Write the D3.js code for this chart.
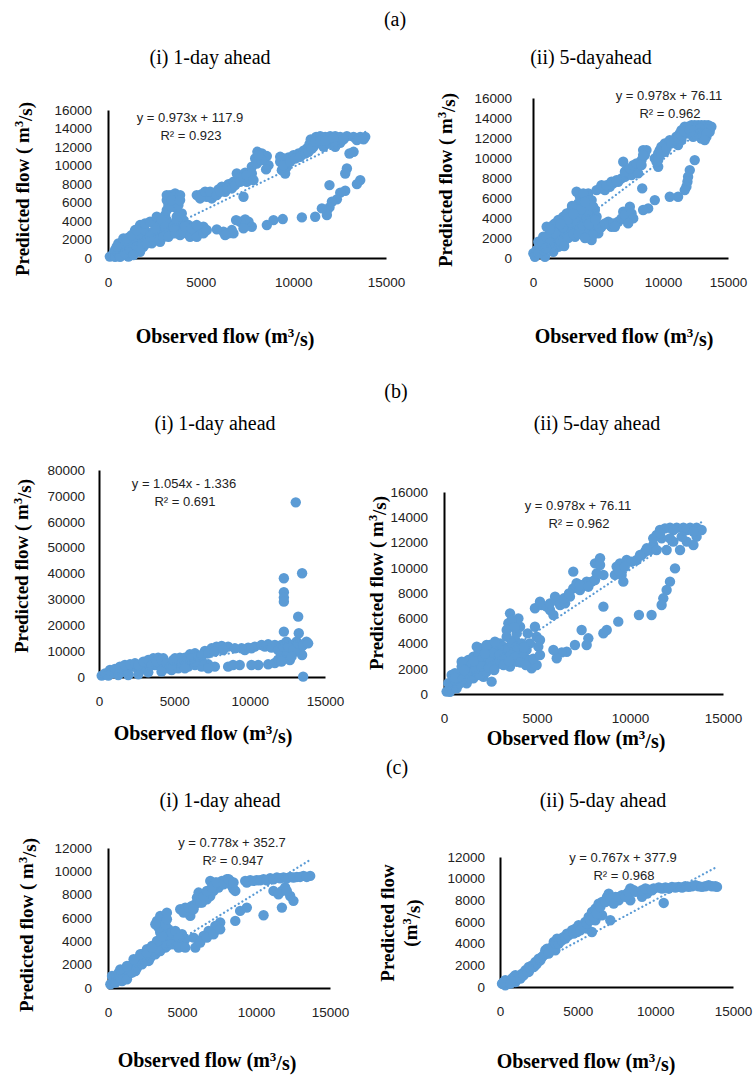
<!DOCTYPE html>
<html>
<head>
<meta charset="utf-8">
<script src="https://cdn.jsdelivr.net/npm/d3@7"></script>
<style>
  html, body { margin: 0; padding: 0; background: #fff; }
  svg { display: block; }
</style>
</head>
<body>
<svg id="fig" width="756" height="1075"></svg>
<script>
// Observed vs predicted flow (m3/s), one [observed, predicted] pair per day.

// (a) model, 1-day ahead
const a1Points = [
  [100,150],[290,500],[470,320],[380,860],[650,680],[830,320],[1100,150],[1280,500],
  [650,1400],[920,1040],[560,1580],[830,2120],[1100,1580],[1370,1040],[1190,2300],[1550,1940],
  [1730,2480],[1460,3020],[1730,3560],[2000,3020],[2270,2480],[2090,1940],[2450,2840],[2450,3740],
  [2720,3380],[2900,2660],[3170,4100],[3260,3200],[3440,2660],[3080,4640],[3260,5720],[3170,6260],
  [3350,6800],[3620,6980],[3890,6800],[3620,6080],[3710,5360],[3980,4820],[3710,4460],[4070,4100],
  [4340,3560],[4610,3380],[4970,3020],[5150,3380],[3890,3380],[4250,2660],[3620,3740],[2810,1760],
  [1910,1220],[2360,1580],[3890,2480],[4790,2660],
  [380,140],[650,140],[920,500],[1190,860],[1550,1220],[1820,1580],[2090,1580],[2450,1940],
  [2720,2120],[2990,2300],[3260,2300],[3620,2660],[4070,2840],[4430,2300],[4790,2300],[5150,2660],
  [5330,3020],[470,1220],[1010,2120],[1280,2480],[1550,3020],[2000,3740],[2270,3920],[2630,4460],
  [2900,4100],[2540,3020],[3080,3380],[3530,3380],[3170,5180],[3440,5540],[3800,5720],[3170,6800],
  [3440,6260],[3890,6260],[3710,4100],[4160,3380],[4520,3200],[4790,3560],[2270,2300],[1730,680],
  [1370,320],
  [4790,6800],[5060,6910],[5330,6620],[5600,6440],[5780,6800],[5960,7420],[6140,7700],[6320,7160],
  [6500,7990],[6770,8240],[6950,9140],[7130,8710],[7400,9220],[7490,8240],[7670,8600],[7760,9860],
  [7940,10760],[8060,11480],[8300,11300],[8570,11020],[8660,10040],[8530,9580],[7310,6620],[9290,10400],
  [9380,9500],[9560,9140],[9650,9860],[9470,10760],[9740,10870],[10010,11120],[10280,11300],[10550,11590],
  [10730,11840],[10870,12310],[10940,12820],[11090,12020],[11230,13100],[11450,13180],[11720,13100],[11990,13180],
  [12260,13180],[12530,13100],[12890,13180],[13250,13100],[13610,13100],[13880,13100],[11360,12460],[11630,12020],
  [11950,12380],[12170,12670],[12530,12460],[13250,11480],[13030,11300],[12890,9680],[12800,9140],
  [4970,6440],[5240,7160],[5510,7160],[5870,6800],[6050,7160],[6410,7520],[6680,7520],[6860,7880],
  [7130,8240],[7310,8780],[7490,8960],[7760,9140],[7850,8420],[8030,10220],[8300,10580],[8120,11120],
  [9290,10940],[9470,10040],[9830,10400],[10100,10760],[10370,10940],[10640,11300],[10820,11480],[11000,11840],
  [11180,12560],[11450,12670],[11720,12670],[12170,12920],[12710,12820],[13430,12740],[13790,12820],[12260,12020],
  [13610,8420],[13430,7990],[12800,7270],[12530,7060],[12350,6340],[12080,6080],[11950,5470],[11810,5110],
  [11810,4640],[11950,7880],[11540,5360],[11180,4460],[10460,4390],[9430,4210],[8930,4100],[8570,3560],
  [7760,3380],[7580,3920],[7400,4180],[7130,3920],[6910,4100],[6770,2660],[6500,2660],[6230,2840],
  [5870,3100],[7310,3200],[6680,3020],[6320,2480]
];

// (a) model, 5-day ahead
const a2Points = [
  [30,470],[280,800],[150,130],[540,1130],[670,630],[410,1630],[920,1470],[1180,970],
  [790,2130],[1310,2460],[1050,3130],[1560,2800],[1430,1800],[1820,2130],[1690,3460],[1950,3130],
  [2200,3800],[2070,2630],[2460,2960],[2710,3300],[2330,4130],[2590,4460],[2970,4130],[3230,3630],
  [2840,2630],[3480,3130],[3740,3800],[3990,3300],[3230,4800],[3480,5460],[3610,6130],[3350,6630],
  [3740,5790],[3990,6130],[4120,5130],[4250,6460],[4510,5790],[4760,4800],[4890,4130],[4380,4130],
  [4630,3630],[5020,2460],[5270,3130],[3870,2300],[4510,1800],[3230,2130],[1950,1130],[2460,1800],
  [1560,630],[920,130],
  [410,470],[790,800],[1180,1630],[1430,1130],[1690,1630],[1950,2130],[2200,2460],[2460,2460],
  [2840,3130],[3100,2960],[3480,2630],[3870,2800],[4250,2800],[4760,2630],[5150,2960],[4510,3300],
  [4890,3460],[1950,3800],[1560,3300],[2460,3630],[2970,4800],[3870,6460],[4380,5790],[4630,5130],
  [3870,4460],[3480,4130],[670,1630],[1050,2130],[5790,3630],[6040,3130],[6940,4630],
  [1300,1500],[1700,2500],[2100,1700],[2300,3100],[2700,2000],[2900,3600],[3100,2400],[3400,3600],
  [3600,2900],[3800,3300],[4100,3900],[4300,3400],[4600,2300],[4800,3800],[4200,4700],[3700,4900],
  [3000,5200],[2700,3900],[2100,3400],[1000,1000],[1300,2900],[3100,4400],[4400,5300],[4000,5600],
  [3500,2400],[4000,2000],[2400,1200],
  [5530,3460],[5910,3300],[6170,3460],[6550,3630],[6810,3960],[7070,4300],[7450,5130],[7580,4460],
  [7710,3960],[7320,3460],[6300,3130],
  [4890,6790],[5150,6960],[5530,6790],[5910,7130],[6170,7460],[6550,7630],[6810,7960],[7070,8130],
  [7320,8460],[7580,8790],[7830,8960],[8220,9290],[8350,9790],[8600,10290],[8730,10790],[8470,10790],
  [6940,9620],[7190,8790],[7580,8290],[8090,8460],[8400,6960],[9370,9960],[9630,10460],[9750,10790],
  [9880,11120],[10140,11460],[10520,11790],[10780,11620],[11030,12120],[11290,12450],[11420,12790],[11670,13120],
  [11930,13120],[12190,13290],[12440,13290],[12700,13290],[12950,13290],[13210,13290],[13470,13290],[13720,13120],
  [13590,12620],[13340,12120],[12950,11950],[12570,12620],[12190,12450],[11800,12450],[11420,11790],[11160,11290],
  [10140,10620],[9630,9120],[9500,9620],
  [5270,7290],[5660,7290],[6040,7630],[6430,7790],[7070,8630],[7450,8960],[7710,9290],[7960,9460],
  [8350,9290],[8470,10290],[9630,9790],[9880,10460],[10270,10960],[10650,11460],[10910,11790],[11160,11950],
  [11420,12290],[11670,12620],[12060,12790],[12440,12790],[12830,12950],[13210,12790],[13590,13120],[12830,12450],
  [13340,12450],[12320,12120],[13210,11790],
  [12440,9790],[12060,8790],[11930,8130],[11880,7630],[11800,7130],[11670,6790],[11160,6130],[10520,6130],
  [9370,5790],[8860,4960],[8470,4800]
];

// (b) model, 1-day ahead
const b1Points = [
  [13060,67500],[13480,40090],[12270,38150],[12270,32740],[12270,30680],[12270,29130],[13220,23330],[12270,17530],
  [13260,16890],[13480,8510],[13550,130],
  [180,520],[510,1030],[840,1420],[1170,2060],[1500,2710],[1830,3350],[2170,4000],[2500,3610],
  [2830,3090],[3160,4640],[3380,5930],[3600,7220],[3930,7480],[4270,7220],[3710,4640],[4150,4000],
  [4600,3350],[5040,7220],[5370,7480],[5700,7480],[6030,8770],[6370,9150],[7030,10050],[7470,11090],
  [7800,11730],[8140,11990],[8570,11730],[5260,3350],[5920,4000],[6370,4640],[6810,4000],[7250,4900],
  [7690,4000],[6810,6570],[6370,5930],[8570,4000],[8900,4640],[9340,4640],[10570,4640],[11230,4900],
  [11670,5410],[11890,6700],[12110,8640],[9460,11090],[9900,11350],[10340,11730],[10790,12370],[11230,12630],
  [11670,12370],[12110,12370],[12440,13660],[12780,12370],[13110,13660],[13440,11730],[13770,13660],[13000,9790],
  [12550,8510],[12440,10440],[1940,1030],[2610,1030],[3270,1800],[4150,2060],[4820,2710],
  [400,1420],[730,2710],[1060,3090],[1390,4000],[1720,4640],[2060,4900],[2390,5290],[2610,4640],
  [2940,5930],[3270,6570],[3490,4640],[3820,5930],[4150,6570],[4490,5290],[4820,4640],[4930,6570],
  [5480,5290],[5700,5930],[6140,7220],[6590,7860],[6810,8510],[7250,9150],[7690,9800],[8240,10440],
  [9020,11090],[9680,10440],[10120,11090],[11010,11730],[11450,11350],[11890,10440],[12220,11730],[12550,11730],
  [12890,10440],[13220,13020],[13550,12370],[13880,13020],[12670,6570],[12110,5930],[12780,7860],[5700,3350],
  [7250,3350],[10120,4640],[620,520],[1280,770],[1940,770]
];

// (b) model, 5-day ahead
const b2Points = [
  [140,190],[320,450],[230,850],[500,710],[590,1110],[410,1510],[770,980],[860,1510],
  [1040,1770],[950,2170],[1220,2300],[1400,1900],[1310,2690],[1580,2960],[1760,2430],[1850,3220],
  [2120,2960],[1940,3620],[2290,3490],[2470,3880],[2560,3090],[2740,2690],[2830,3490],[2560,980],
  [2120,1370],[1580,1240],[1220,850],[3010,4010],[3190,3750],[3370,4540],[3460,5600],[3550,6390],
  [3730,5330],[4000,5990],[4090,5330],[3820,4280],[3730,3490],[4090,3220],[4360,2830],[4440,3490],
  [4710,2030],[4980,2300],[4620,4010],[3280,2690],[3550,2170],[3910,2560],
  [320,180],[680,450],[590,1640],[860,850],[1130,1370],[1400,1240],[1490,2300],[1670,1770],
  [1850,2300],[2030,2690],[2200,2160],[2380,2820],[2650,3220],[2920,2960],[3100,3220],[3280,3490],
  [3460,3620],[3640,4010],[3910,3750],[4180,4010],[4270,2960],[4620,2690],[1940,1500],[2290,1770],
  [950,2560],[1760,3750],[2290,3880],[2740,4140],[3370,5070],[3640,5860],[3910,4800],
  [600,1300],[1000,1200],[1300,1700],[1700,2000],[2000,2200],[2500,2500],[2800,2300],[3000,2700],
  [3300,2900],[3600,3100],[3800,2900],[4100,2500],[4400,2300],[4800,2800],[2400,2100],[2700,1900],
  [3200,2300],[3500,2600],[3000,3100],[2200,3200],[1600,2600],[1100,1900],[4300,3700],[4500,4800],
  [3800,5300],
  [4890,5330],[4980,4540],[5160,4280],[5070,3750],[5160,3090],
  [4890,6790],[5250,7050],[5520,6920],[5700,6650],[5880,6260],[6060,7450],[5970,7710],[6240,7050],
  [6510,7180],[6770,7710],[6950,8370],[7130,8770],[6950,9690],[7310,8240],[7490,8630],[7670,8900],
  [7940,8900],[8120,9030],[8120,10350],[8390,10750],[8570,9430],[9190,9430],[9280,10090],[9460,10350],
  [9550,9430],[9640,8900],[9820,10610],[10090,10480],[10360,10610],[10630,11010],[10810,11270],[11080,11410],
  [11250,11800],[11430,12590],[11610,12990],[11880,13120],[12150,13170],[12510,13170],[12870,13170],[13230,13170],
  [13580,13170],[13850,12990],[13580,12460],[13410,11800],[13050,12070],[12690,11410],[12330,12070],[11970,11410],
  [11700,12330],[11430,11410],
  [5160,7310],[5700,7180],[6450,7580],[6720,7970],[7310,8630],[7760,8500],[8210,9560],[8390,10220],
  [9370,9820],[9720,10080],[10540,11010],[10900,11540],[11250,12330],[11610,12720],[12330,12990],[13050,12990],
  [13410,12860],[12780,12460],[12150,12330],
  [12420,9950],[12150,8900],[11970,8240],[11790,7580],[11700,7050],[11160,6260],[10480,6260],[9370,5730],
  [8750,5070],[8570,4810],[8570,6920],[7670,3880],[7400,5070],[7040,3880],[6600,3350],[6330,3300],
  [6060,2830],[5880,3490],[7760,4410]
];

// (c) model, 1-day ahead
const c1Points = [
  [160,320],[380,600],[270,1030],[610,890],[720,1320],[950,600],[1060,1170],[1170,1600],
  [1400,1170],[1510,1890],[1730,2170],[1850,1460],[1960,2460],[2180,2320],[2300,2890],[2520,2750],
  [2630,3320],[2860,3180],[2970,3600],[2750,2320],[3200,3460],[3420,3750],[3650,4030],[3870,4180],
  [4100,4460],[4320,4320],[4550,4030],[4880,4030],[5110,3750],[5220,4180],[4770,3460],[3870,3460],
  [3310,5750],[3530,6180],[3980,6460],[4100,5030],[3760,5180],[4320,4750],[3530,4750],[5000,4610],
  [500,460],[830,890],[1280,740],[1620,1320],[1960,1740],[2300,2030],[2520,2320],[2860,2600],
  [3200,2890],[3530,3170],[3980,3600],[4320,3750],[4770,3750],[5220,3460],[3310,4030],[3650,4460],
  [3420,5180],[3870,5460],[3980,5890],[3200,5460],[830,1600],[1280,1890],[1730,2460],[2180,2890],
  [2630,3030],[2970,3460],[4550,4890],[4770,4320],
  [4880,6750],[5220,6890],[5450,6460],[5670,7040],[5900,7180],[6120,8180],[6010,7750],[6350,7320],
  [6680,7610],[6910,7890],[7130,8320],[6910,9180],[7250,9040],[7470,8610],[7700,9180],[8030,9320],
  [8260,9180],[8370,8750],[8480,8470],[8600,8320],[7130,8750],[5560,6180],
  [5110,6460],[5450,6890],[5780,6750],[6230,7320],[6460,7890],[6680,8320],[7020,8610],[7360,9040],
  [7810,8890],[8150,9320],[8480,9040],
  [9270,9180],[9610,9240],[10060,9240],[10510,9320],[10960,9410],[11410,9470],[11860,9470],[12310,9520],
  [12760,9520],[13210,9610],[13660,9610],[11180,8320],[11750,8320],[11970,8610],[12310,7890],[11750,6890],
  [12530,7470],[9380,9040],
  [9830,9180],[10280,9240],[10730,9240],[11180,9320],[11630,9410],[12080,9410],[12530,9470],[12980,9520],
  [13430,9520],[11520,8040],[12080,8320],
  [10510,6240],[9380,6890],[8930,6610],[8600,5750],[7580,5610],[7250,5320],[6800,4890],[6460,4460],
  [6120,4030],[5900,3460],[5780,4320],[6230,3890],[6680,4320],[7130,4600],[7580,5030]
];

// (c) model, 5-day ahead
const c2Points = [
  [130,310],[340,620],[560,460],[340,150],[770,770],[990,460],[1200,920],[1420,1230],
  [1630,1540],[1850,1850],[2060,2000],[2280,2310],[2490,2620],[2700,2770],[2920,3390],[3030,3540],
  [3240,3390],[3460,4160],[3670,4470],[3880,4470],[4100,4620],[4310,4930],[4640,5240],[4850,5390],
  [5060,5700],[5280,5540],[5490,6010],[5710,6470],[5920,6930],[6140,7240],[6350,7700],[6570,7850],
  [6890,8320],[7000,8620],[7210,8010],[7430,8320],[7640,8010],[7850,8470],[8180,8620],[8390,9090],
  [8610,8930],[8390,8010],[5920,5080],[7100,6160],[9570,8990],[9890,9090],[10220,9180],[10650,9180],
  [11070,9240],[11500,9240],[11930,9300],[12360,9300],[12790,9300],[13220,9300],[13650,9300],[13970,9240],
  [10540,7760],[9470,8620],[9140,8320],[6140,6160],[6570,6620],[5600,5390],[3560,3390],[1850,1390],
  [990,1080],[2280,2000],
  [240,460],[670,310],[880,920],[1310,770],[1520,1080],[1740,1390],[1950,1690],[2170,1850],
  [2380,2160],[2600,2460],[2810,2930],[3130,3080],[3350,3700],[3560,4000],[3780,4000],[3990,4310],
  [4210,4470],[4420,4770],[4740,4930],[4960,5080],[5170,5240],[5390,5540],[5600,5850],[5820,6160],
  [6030,6470],[6240,6780],[6460,7390],[6780,7850],[7100,8160],[7320,7700],[7640,8320],[8070,8320],
  [8280,8780],[8710,8780],[9140,8930],[9360,9090],[9790,8930],[10430,9090],[10860,9090],[11290,9180],
  [11720,9180],[12150,9240],[12580,9390],[13000,9240],[13430,9390],[13860,9300]
];

// Axis ticks
const flowTicksX = [0, 5000, 10000, 15000];
const flowTicks16k = [0, 2000, 4000, 6000, 8000, 10000, 12000, 14000, 16000];
const flowTicks80k = [0, 10000, 20000, 30000, 40000, 50000, 60000, 70000, 80000];
const flowTicks12k = [0, 2000, 4000, 6000, 8000, 10000, 12000];

// Fitted regression lines (slope, intercept) and R² as printed
const fitSlopes = [0.973, 0.978, 1.054, 0.978, 0.778, 0.767];
const fitIntercepts = [117.9, 76.11, -1.336, 76.11, 352.7, 377.9];
const fitLabels = ["y = 0.973x + 117.9", "y = 0.978x + 76.11", "y = 1.054x - 1.336",
                   "y = 0.978x + 76.11", "y = 0.778x + 352.7", "y = 0.767x + 377.9"];
const r2Labels = ["R² = 0.923", "R² = 0.962", "R² = 0.691", "R² = 0.962", "R² = 0.947", "R² = 0.968"];

const panelTitles = ["(i) 1-day ahead", "(ii) 5-dayahead", "(i) 1-day ahead",
                     "(ii) 5-day ahead", "(i) 1-day ahead", "(ii) 5-day ahead"];
const groupLabels = ["(a)", "(b)", "(c)"];

// Layout of each panel on the page
const panels = [
  { pts: a1Points, yTicks: flowTicks16k, x0: 108, x1: 386, yb: 258, yt: 110, tickPad: 16,
    title: [210, 64], yTitle: [23, 189], xTitle: [225, 337], eq: [190, 117], twoLineY: false },
  { pts: a2Points, yTicks: flowTicks16k, x0: 533, x1: 728, yb: 258, yt: 98, tickPad: 21,
    title: [591, 64], yTitle: [446, 180], xTitle: [624, 337], eq: [669, 95], twoLineY: false },
  { pts: b1Points, yTicks: flowTicks80k, x0: 99, x1: 325, yb: 677, yt: 470, tickPad: 14,
    title: [215, 430], yTitle: [22, 566], xTitle: [203, 734], eq: [184, 483], twoLineY: false },
  { pts: b2Points, yTicks: flowTicks16k, x0: 444, x1: 723, yb: 694, yt: 492, tickPad: 16,
    title: [597, 430], yTitle: [377, 583], xTitle: [576, 739], eq: [578, 505], twoLineY: false },
  { pts: c1Points, yTicks: flowTicks12k, x0: 108, x1: 330, yb: 988, yt: 848, tickPad: 16,
    title: [220, 807], yTitle: [27, 925], xTitle: [207, 1061], eq: [232, 842], twoLineY: false },
  { pts: c2Points, yTicks: flowTicks12k, x0: 500, x1: 733, yb: 987, yt: 857, tickPad: 15,
    title: [603, 807], yTitle: [399, 923], xTitle: [586, 1062], eq: [623, 857], twoLineY: true }
];
const groupPos = [[395, 20], [396, 392], [397, 768]];

const BLUE = "#5B9BD5";
const SERIF = "'Liberation Serif', 'DejaVu Serif', serif";
const SANS = "'Liberation Sans', Arial, sans-serif";

const svg = d3.select("#fig");

groupLabels.forEach((g, i) => {
  svg.append("text")
    .attr("x", groupPos[i][0]).attr("y", groupPos[i][1] + 6)
    .attr("text-anchor", "middle")
    .style("font-family", SERIF).style("font-size", "20px")
    .text(g);
});

// Writes "m³/s" style units with a raised 3
function unitText(sel, before, after) {
  sel.append("tspan").text(before);
  sel.append("tspan").attr("dy", "-0.45em").style("font-size", "0.65em").text("3");
  sel.append("tspan").attr("dy", "0.45em").text(after);
}

panels.forEach((p, i) => {
  const g = svg.append("g");
  const maxY = p.yTicks[p.yTicks.length - 1];
  const x = d3.scaleLinear().domain([0, 15000]).range([p.x0, p.x1]);
  const y = d3.scaleLinear().domain([0, maxY]).range([p.yb, p.yt]);

  // panel title
  g.append("text")
    .attr("x", p.title[0]).attr("y", p.title[1])
    .attr("text-anchor", "middle")
    .style("font-family", SERIF).style("font-size", "20px")
    .text(panelTitles[i]);

  // axes
  const yAxis = g.append("g")
    .attr("transform", `translate(${p.x0},0)`)
    .call(d3.axisLeft(y).tickValues(p.yTicks).tickSize(0).tickPadding(p.tickPad).tickFormat(d3.format("d")));
  const xAxis = g.append("g")
    .attr("transform", `translate(0,${p.yb})`)
    .call(d3.axisBottom(x).tickValues(flowTicksX).tickSize(0).tickPadding(19).tickFormat(d3.format("d")));
  [yAxis, xAxis].forEach(a => {
    a.select(".domain").attr("stroke", "#000").attr("stroke-width", 2);
    a.selectAll("text").style("font-family", SANS).style("font-size", "13.5px").attr("fill", "#222");
  });

  // points
  g.append("g").selectAll("circle")
    .data(p.pts).join("circle")
    .attr("cx", d => x(d[0])).attr("cy", d => y(d[1]))
    .attr("r", 5.2)
    .attr("fill", BLUE);

  // linear trendline across the observed range
  const xs = d3.extent(p.pts, d => d[0]);
  g.append("line")
    .attr("x1", x(xs[0])).attr("y1", y(fitSlopes[i] * xs[0] + fitIntercepts[i]))
    .attr("x2", x(xs[1])).attr("y2", y(fitSlopes[i] * xs[1] + fitIntercepts[i]))
    .attr("stroke", BLUE).attr("stroke-width", 2.2)
    .attr("stroke-linecap", "round")
    .attr("stroke-dasharray", "0.1,4.2");

  // equation and R²
  g.append("text")
    .attr("x", p.eq[0]).attr("y", p.eq[1] + 4.5)
    .attr("text-anchor", "middle")
    .style("font-family", SANS).style("font-size", "13px").attr("fill", "#222")
    .text(fitLabels[i]);
  g.append("text")
    .attr("x", p.eq[0] + 1).attr("y", p.eq[1] + 22.5)
    .attr("text-anchor", "middle")
    .style("font-family", SANS).style("font-size", "13px").attr("fill", "#222")
    .text(r2Labels[i]);

  // x axis title
  const xt = g.append("text")
    .attr("x", p.xTitle[0]).attr("y", p.xTitle[1] + 6)
    .attr("text-anchor", "middle")
    .style("font-family", SERIF).style("font-size", "20px").style("font-weight", "bold");
  unitText(xt, "Observed flow (m", "/s)");

  // y axis title
  if (p.twoLineY) {
    g.append("text")
      .attr("transform", `translate(${p.yTitle[0] - 5},${p.yTitle[1]}) rotate(-90)`)
      .attr("text-anchor", "middle")
      .style("font-family", SERIF).style("font-size", "19px").style("font-weight", "bold")
      .text("Predicted flow");
    const yt2 = g.append("text")
      .attr("transform", `translate(${p.yTitle[0] + 18},${p.yTitle[1]}) rotate(-90)`)
      .attr("text-anchor", "middle")
      .style("font-family", SERIF).style("font-size", "19px").style("font-weight", "bold");
    unitText(yt2, "(m", "/s)");
  } else {
    const yt = g.append("text")
      .attr("transform", `translate(${p.yTitle[0] + 6},${p.yTitle[1]}) rotate(-90)`)
      .attr("text-anchor", "middle")
      .style("font-family", SERIF).style("font-size", "19px").style("font-weight", "bold");
    unitText(yt, "Predicted flow ( m", "/s)");
  }
});
</script>
</body>
</html>
